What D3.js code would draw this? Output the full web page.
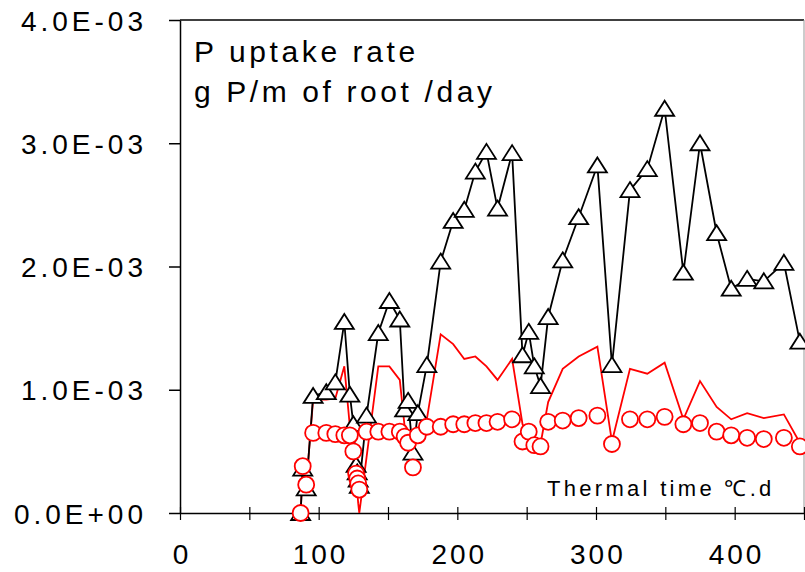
<!DOCTYPE html>
<html lang="en">
  <head>
    <meta charset="UTF-8" />
    <title>P uptake rate</title>
    <script src="https://d3js.org/d3.v7.min.js"></script>
    <style>
      body {
        margin: 0;
        background: #fff;
      }
      .chart text {
        font-family: "Liberation Sans", Arial, sans-serif;
        fill: #000;
      }
    </style>
  </head>
  <body>
    <div class="chart"></div>

    <script>
      // thermal time (degC.d), shared by all three series
      var thermalTime = [
        87, 88.5, 91, 96, 105.5, 112, 118.5, 122.5, 125, 127, 127.8, 128.5, 129.3,
        134.5, 143, 151, 158.5, 162, 164.5, 168, 171.5, 178, 188, 197, 205, 213,
        221, 229, 239.5, 247, 251.5, 255.5, 260, 265.5, 276, 287.5, 301, 311.5,
        324.5, 337, 349.5, 363, 375, 387, 397.5, 409, 421, 435.5, 447
      ];

      // values in units of 1E-03 g P/m root/day
      var triangleSeries = [
        0, 0.36, 0.2, 0.95, 0.98, 1.06, 1.55, 0.96, 0.72, 0.39, 0.33, 0.27, 0.22,
        0.79, 1.46, 1.72, 1.57, 0.84, 0.91, 0.49, 0.81, 1.2, 2.04, 2.37, 2.46, 2.77,
        2.93, 2.47, 2.92, 1.28, 1.47, 1.19, 1.03, 1.59, 2.05, 2.4, 2.82, 1.2,
        2.62, 2.79, 3.28, 1.95, 3.0, 2.27, 1.82, 1.9, 1.88, 2.03, 1.39
      ];

      var lineSeries = [
        0, 0.37, 0.22, 0.92, 0.92, 0.93, 1.19, 0.7, 0.45, 0.28, 0.18, 0.08, 0,
        0.45, 1.19, 1.19, 1.08, 0.7, 0.62, 0.55, 0.62, 0.76, 1.45, 1.37, 1.25, 1.27,
        1.19, 1.08, 1.25, 0.72, 0.62, 0.56, 0.56, 0.9, 1.17, 1.27, 1.35, 0.58,
        1.17, 1.13, 1.22, 0.76, 1.07, 0.86, 0.76, 0.81, 0.77, 0.8, 0.57
      ];

      var circleSeries = [
        0, 0.38, 0.23, 0.65, 0.65, 0.64, 0.63, 0.63, 0.5, 0.32, 0.28, 0.24, 0.19,
        0.66, 0.66, 0.66, 0.66, 0.62, 0.57, 0.37, 0.63, 0.7, 0.7, 0.72, 0.72, 0.73,
        0.73, 0.74, 0.76, 0.58, 0.66, 0.55, 0.54, 0.74, 0.75, 0.77, 0.79, 0.56,
        0.76, 0.76, 0.78, 0.72, 0.73, 0.66, 0.63, 0.61, 0.6, 0.61, 0.54
      ];

      var yTicks = [0, 0.001, 0.002, 0.003, 0.004];
      var yTickLabels = ["0.0E+00", "1.0E-03", "2.0E-03", "3.0E-03", "4.0E-03"];
      var xTicks = [0, 50, 100, 150, 200, 250, 300, 350, 400, 450];
      var xTickLabels = ["0", "", "100", "", "200", "", "300", "", "400", ""];
      var titleLines = ["P uptake rate", "g P/m of root /day"];
      var xTitle = "Thermal time \u2103.d";

      var margin = { top: 20, right: 1, bottom: 59, left: 180 };
      var width = 805 - margin.left - margin.right;
      var height = 572 - margin.top - margin.bottom;

      var svgContainer = d3
        .select(".chart")
        .append("svg")
        .attr("width", 805)
        .attr("height", 572);

      var svg = svgContainer
        .append("g")
        .attr("transform", "translate(" + margin.left + ", " + margin.top + ")");

      var xScale = d3.scaleLinear().domain([0, 450]).range([0, width]);
      var yScale = d3.scaleLinear().domain([0, 0.004]).range([height, 0]);

      var data = thermalTime.map(function (t, i) {
        return {
          t: t,
          tri: triangleSeries[i] * 1e-3,
          line: lineSeries[i] * 1e-3,
          circ: circleSeries[i] * 1e-3
        };
      });

      // frame: top black, right grey
      svg
        .append("line")
        .attr("x1", 0)
        .attr("x2", width)
        .attr("y1", 0)
        .attr("y2", 0)
        .attr("stroke", "#000")
        .attr("stroke-width", 1.5);
      svg
        .append("line")
        .attr("x1", width)
        .attr("x2", width)
        .attr("y1", 0)
        .attr("y2", height)
        .attr("stroke", "#999")
        .attr("stroke-width", 1);

      // y axis
      var yAxis = d3
        .axisLeft(yScale)
        .tickValues(yTicks)
        .tickSize(11)
        .tickSizeOuter(0)
        .tickPadding(22)
        .tickFormat(function (d, i) {
          return yTickLabels[i];
        });
      var gy = svg.append("g").call(yAxis);
      gy.select(".domain").attr("stroke-width", 1.5);
      gy.selectAll(".tick line").attr("stroke-width", 1.5);
      gy.selectAll(".tick text")
        .style("font-size", "28px")
        .style("letter-spacing", "4px")
        .attr("dy", "0.36em");

      // x axis
      var xAxis = d3
        .axisBottom(xScale)
        .tickValues(xTicks)
        .tickSize(7)
        .tickSizeOuter(0)
        .tickPadding(24)
        .tickFormat(function (d, i) {
          return xTickLabels[i];
        });
      var gx = svg
        .append("g")
        .attr("transform", "translate(0, " + height + ")")
        .call(xAxis);
      gx.select(".domain").attr("stroke-width", 1.5);
      gx.selectAll(".tick line").attr("y1", -6).attr("stroke-width", 1.2);
      gx.selectAll(".tick text")
        .style("font-size", "28px")
        .style("letter-spacing", "3px")
        .attr("dx", "0.05em");

      // red line series
      var lineGen = function (key) {
        return d3
          .line()
          .x(function (d) {
            return xScale(d.t);
          })
          .y(function (d) {
            return yScale(d[key]);
          });
      };

      svg
        .append("path")
        .datum(data)
        .attr("fill", "none")
        .attr("stroke", "#ff0000")
        .attr("stroke-width", 1.8)
        .attr("d", lineGen("line"));

      // black triangles with line
      svg
        .append("path")
        .datum(data)
        .attr("fill", "none")
        .attr("stroke", "#000")
        .attr("stroke-width", 1.8)
        .attr("d", lineGen("tri"));

      svg
        .selectAll(".tri")
        .data(data)
        .enter()
        .append("path")
        .attr("class", "tri")
        .attr("d", "M0,-8L9.5,7L-9.5,7Z")
        .attr("transform", function (d) {
          return "translate(" + xScale(d.t) + "," + yScale(d.tri) + ")";
        })
        .attr("fill", "#fff")
        .attr("stroke", "#000")
        .attr("stroke-width", 1.8);

      // red open circles
      svg
        .selectAll(".circ")
        .data(data)
        .enter()
        .append("circle")
        .attr("class", "circ")
        .attr("cx", function (d) {
          return xScale(d.t);
        })
        .attr("cy", function (d) {
          return yScale(d.circ);
        })
        .attr("r", 8)
        .attr("fill", "#fff")
        .attr("stroke", "#ff0000")
        .attr("stroke-width", 1.8);

      // texts
      svg
        .selectAll(".title")
        .data(titleLines)
        .enter()
        .append("text")
        .attr("class", "title")
        .attr("x", 14)
        .attr("y", function (d, i) {
          return 42 + i * 40;
        })
        .style("font-size", "30px")
        .style("letter-spacing", "3.6px")
        .text(function (d) {
          return d;
        });

      svg
        .append("text")
        .attr("x", 367)
        .attr("y", 476)
        .style("font-size", "22px")
        .style("letter-spacing", "3.3px")
        .text(xTitle);
    </script>
  </body>
</html>
